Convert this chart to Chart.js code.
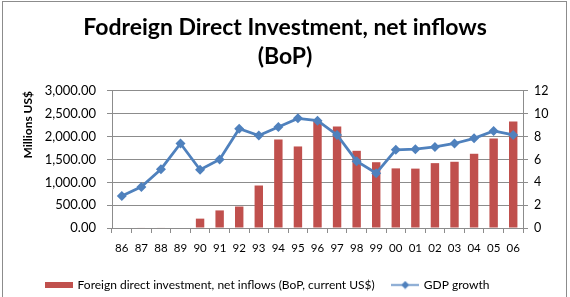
<!DOCTYPE html>
<html>
<head>
<meta charset="utf-8">
<script src="https://cdn.jsdelivr.net/npm/chart.js@4"></script>
<style>
  html, body { margin: 0; padding: 0; background: #fff; overflow: hidden; }
  #frame { position: absolute; left: 2px; top: 1px; width: 563px; height: 310px; border: 1px solid #8c8c8c; }
  #wrap { position: absolute; left: 0; top: 0; width: 570px; height: 297px; }
</style>
</head>
<body>
<div id="frame"></div>
<div id="wrap"><canvas id="c" width="570" height="297"></canvas></div>
<script>
  const years = ['86','87','88','89','90','91','92','93','94','95','96','97','98','99','00','01','02','03','04','05','06'];
  const fdi = [0, 10, 12, 0, 205, 385, 470, 930, 1935, 1785, 2335, 2220, 1690, 1440, 1305, 1300, 1420, 1450, 1625, 1960, 2330];
  const gdp = [2.8, 3.6, 5.15, 7.4, 5.1, 6.0, 8.7, 8.1, 8.85, 9.6, 9.4, 8.15, 5.85, 4.8, 6.85, 6.9, 7.1, 7.4, 7.85, 8.5, 8.15];
  const leftTicks = [0, 500, 1000, 1500, 2000, 2500, 3000];
  const rightTicks = [0, 2, 4, 6, 8, 10, 12];

  const RED = '#C0504D';
  const BLUE = '#4F81BD';
  const GRID = '#8c8c8c';
  const FONT = 'Lato, "Open Sans", sans-serif';

  // legend swatches
  const barSwatch = document.createElement('canvas');
  barSwatch.width = 28; barSwatch.height = 6;
  let g = barSwatch.getContext('2d');
  g.fillStyle = RED; g.fillRect(0, 0, 28, 6);

  const lineSwatch = document.createElement('canvas');
  lineSwatch.width = 28; lineSwatch.height = 9;
  g = lineSwatch.getContext('2d');
  g.strokeStyle = BLUE; g.lineWidth = 1.5;
  g.beginPath(); g.moveTo(0, 4.5); g.lineTo(28, 4.5); g.stroke();
  g.fillStyle = BLUE;
  g.beginPath(); g.moveTo(14, 0.5); g.lineTo(18, 4.5); g.lineTo(14, 8.5); g.lineTo(10, 4.5); g.closePath(); g.fill();

  // nudge the legend a little left and down, like the Excel original
  const legendNudge = {
    id: 'legendNudge',
    afterLayout(chart) {
      const l = chart.legend;
      l.left -= 17; l.right -= 17;
      l.top += 4; l.bottom += 4;
    },
  };

  new Chart(document.getElementById('c'), {
    type: 'bar',
    data: {
      labels: years,
      datasets: [
        {
          type: 'line',
          label: 'GDP growth',
          data: gdp,
          yAxisID: 'y1',
          borderColor: BLUE,
          backgroundColor: BLUE,
          borderWidth: 2.8,
          pointStyle: 'rectRot',
          pointRadius: 5,
          pointBorderWidth: 0,
          tension: 0,
          order: 0,
        },
        {
          label: 'Foreign direct investment, net inflows (BoP, current US$)',
          data: fdi,
          yAxisID: 'y',
          backgroundColor: RED,
          barPercentage: 0.43,
          categoryPercentage: 1,
          order: 1,
        },
      ],
    },
    options: {
      responsive: false,
      animation: false,
      layout: { padding: 0 },
      plugins: {
        title: {
          display: true,
          text: ['Fodreign Direct Investment, net inflows', '(BoP)'],
          color: '#000',
          font: { family: FONT, size: 23, weight: 'bold', lineHeight: 1.26 },
          padding: { top: 13, bottom: 20 },
        },
        legend: {
          position: 'bottom',
          reverse: true,
          labels: {
            color: '#000',
            font: { family: FONT, size: 12 },
            usePointStyle: true,
            pointStyleWidth: 25,
            padding: 18,
            generateLabels: (chart) => chart.data.datasets.map((ds, i) => ({
              text: ds.label,
              datasetIndex: i,
              pointStyle: ds.type === 'line' ? lineSwatch : barSwatch,
              fontColor: '#000',
              lineWidth: 0,
              hidden: false,
            })),
          },
        },
        tooltip: { enabled: false },
      },
      scales: {
        x: {
          afterFit: (s) => { s.height = 29; },
          grid: { display: true, drawOnChartArea: false, drawTicks: true, tickLength: 5, color: GRID, offset: true },
          border: { color: GRID },
          ticks: { color: '#000', font: { family: FONT, size: 11.5 }, maxRotation: 0, autoSkip: false, padding: 8 },
        },
        y: {
          position: 'left',
          min: 0, max: 3000,
          afterFit: (s) => { s.width = 112; },
          afterBuildTicks: (s) => { s.ticks = leftTicks.map(v => ({ value: v })); },
          grid: { color: GRID, tickLength: 5 },
          border: { color: GRID },
          ticks: {
            color: '#000',
            font: { family: FONT, size: 13 },
            padding: 11,
            callback: (v) => Number(v).toLocaleString('en-US', { minimumFractionDigits: 2, maximumFractionDigits: 2 }),
          },
          title: {
            display: true,
            text: 'Millions US$',
            align: 'end',
            color: '#000',
            font: { family: FONT, size: 12, weight: 'bold' },
            padding: { top: 21, bottom: 0 },
          },
        },
        y1: {
          position: 'right',
          min: 0, max: 12,
          afterFit: (s) => { s.width = 47; },
          afterBuildTicks: (s) => { s.ticks = rightTicks.map(v => ({ value: v })); },
          grid: { drawOnChartArea: false, color: GRID, tickLength: 5 },
          border: { color: GRID },
          ticks: { color: '#000', font: { family: FONT, size: 12.5 }, padding: 6 },
        },
      },
    },
    plugins: [legendNudge],
  });
</script>
</body>
</html>
